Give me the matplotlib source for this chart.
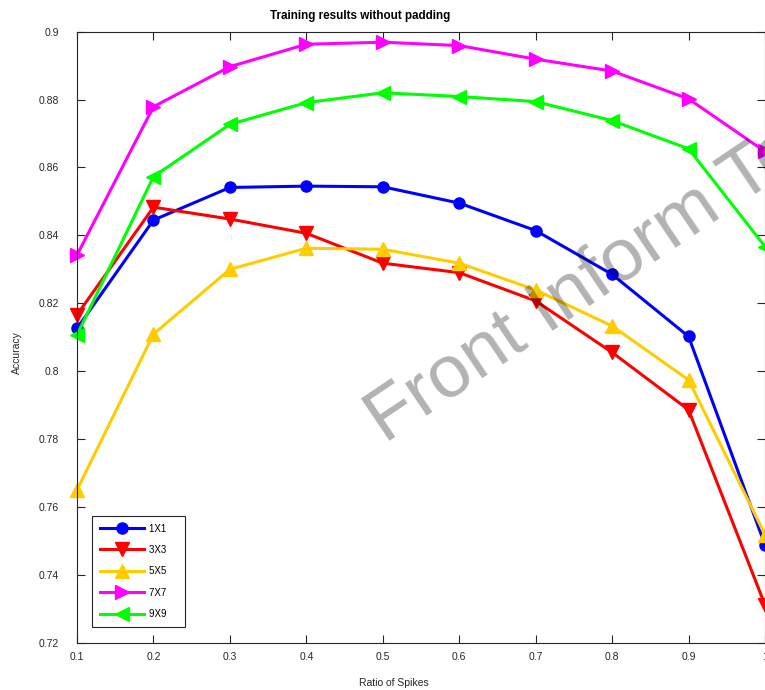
import numpy as np
import matplotlib
matplotlib.use('Agg')
import matplotlib.pyplot as plt

plt.rcParams['font.family'] = ['Liberation Sans', 'DejaVu Sans']

ratio = [0.1, 0.2, 0.3, 0.4, 0.5, 0.6, 0.7, 0.8, 0.9, 1.0]
acc_1x1 = [0.8126, 0.8445, 0.8541, 0.8545, 0.8543, 0.8495, 0.8414, 0.8285, 0.8102, 0.7488]
acc_3x3 = [0.8166, 0.8483, 0.8448, 0.8406, 0.8318, 0.8290, 0.8207, 0.8055, 0.7886, 0.7311]
acc_5x5 = [0.7650, 0.8109, 0.8300, 0.8362, 0.8359, 0.8318, 0.8239, 0.8133, 0.7974, 0.7518]
acc_7x7 = [0.8342, 0.8779, 0.8897, 0.8963, 0.8969, 0.8959, 0.8919, 0.8884, 0.8802, 0.8647]
acc_9x9 = [0.8107, 0.8573, 0.8727, 0.8791, 0.8820, 0.8809, 0.8794, 0.8738, 0.8655, 0.8367]
labels = ['1X1', '3X3', '5X5', '7X7', '9X9']

xticks = [0.1, 0.2, 0.3, 0.4, 0.5, 0.6, 0.7, 0.8, 0.9, 1.0]
xticklabels = ['0.1', '0.2', '0.3', '0.4', '0.5', '0.6', '0.7', '0.8', '0.9', '1']
yticks = [0.72, 0.74, 0.76, 0.78, 0.80, 0.82, 0.84, 0.86, 0.88, 0.90]
yticklabels = ['0.72', '0.74', '0.76', '0.78', '0.8', '0.82', '0.84', '0.86', '0.88', '0.9']

series = [acc_1x1, acc_3x3, acc_5x5, acc_7x7, acc_9x9]
colors = ['#0000ff', '#ff0000', '#ffcc00', '#ff00ff', '#00ff00']
markers = ['o', 'v', '^', '>', '<']
msizes = [8, 9.5, 9.5, 9.5, 9.5]

fig = plt.figure(figsize=(7.65, 6.9), dpi=100)
ax = fig.add_axes([0.1007, 0.0686, 0.8993, 0.8855])

for ys, c, m, ms, lab in zip(series, colors, markers, msizes, labels):
    # trailing spaces give the wider legend box of the original
    ax.plot(ratio, ys, color=c, marker=m, markersize=ms, linewidth=2.2,
            label=lab + '    ', clip_on=False)

ax.set_xlim(0.1, 1.0)
ax.set_ylim(0.72, 0.9)
ax.set_xticks(xticks)
ax.set_xticklabels(xticklabels)
ax.set_yticks(yticks)
ax.set_yticklabels(yticklabels)

axc = '#262626'
for s in ax.spines.values():
    s.set_color(axc)
    s.set_linewidth(0.8)
ax.tick_params(direction='in', length=5.5, width=0.8, colors=axc,
               labelsize=7.5, top=True, right=True)
ax.tick_params(axis='y', pad=13)
ax.tick_params(axis='x', pad=7)

ax.set_title('Training results without padding', fontsize=8.4,
             fontweight='bold', color='black', x=0.411, pad=9)
ax.set_xlabel('Ratio of Spikes', fontsize=7.5, color=axc)
ax.set_ylabel('Accuracy', fontsize=7.5, color=axc)
ax.xaxis.set_label_coords(0.461, -0.058)
ax.yaxis.set_label_coords(-0.080, 0.474)

leg = ax.legend(loc='lower left', bbox_to_anchor=(0.022, 0.026),
                borderaxespad=0, fontsize=7, handlelength=4.5,
                handletextpad=0.5, labelspacing=1.17, borderpad=0.8,
                fancybox=False, framealpha=1, edgecolor=axc)
leg.get_frame().set_linewidth(0.8)

# watermark
fig.text(0.503, 0.357, 'Front Inform Te', fontsize=54,
         color='black', alpha=0.3, rotation=34, rotation_mode='anchor',
         ha='left', va='baseline', zorder=10)

fig.savefig('out.png', dpi=100)
